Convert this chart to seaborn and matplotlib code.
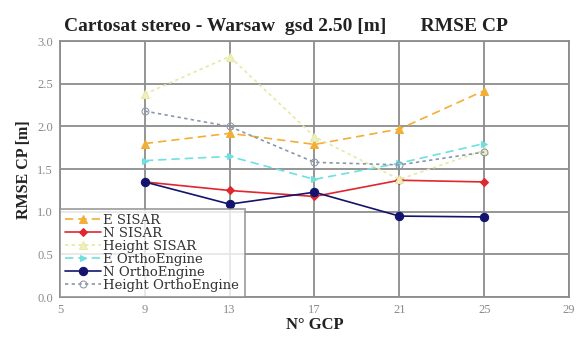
import numpy as np
import pandas as pd
import matplotlib
matplotlib.use("Agg")
import matplotlib.pyplot as plt
import seaborn as sns

# number of GCP and RMSE values on check points
gcp = [9, 13, 17, 21, 25]
e_sisar = [1.80, 1.92, 1.79, 1.97, 2.42]
n_sisar = [1.35, 1.25, 1.18, 1.37, 1.35]
h_sisar = [2.38, 2.82, 1.88, 1.38, 1.72]
e_ortho = [1.60, 1.65, 1.38, 1.57, 1.80]
n_ortho = [1.35, 1.09, 1.23, 0.95, 0.94]
h_ortho = [2.18, 2.00, 1.58, 1.55, 1.70]

labels = ["E SISAR", "N SISAR", "Height SISAR", "E OrthoEngine", "N OrthoEngine", "Height OrthoEngine"]
series = [e_sisar, n_sisar, h_sisar, e_ortho, n_ortho, h_ortho]

styles = {
    "E SISAR": dict(color="#F2AE35", ls=(0, (5, 3)), marker="^", ms=6, lw=1.2, mfc="#F2AE35"),
    "N SISAR": dict(color="#E0262E", ls="-", marker="D", ms=4.5, lw=1.2, mfc="#E0262E"),
    "Height SISAR": dict(color="#E8E8A6", ls=(0, (2, 2)), marker="^", ms=6, lw=1.2, mfc="#EFEFC0"),
    "E OrthoEngine": dict(color="#6FE0E0", ls=(0, (5, 3)), marker=">", ms=5, lw=1.2, mfc="#6FE0E0"),
    "N OrthoEngine": dict(color="#14146E", ls="-", marker="o", ms=6, lw=1.2, mfc="#14146E"),
    "Height OrthoEngine": dict(color="#8A96AA", ls=(0, (2, 2)), marker="o", ms=5, lw=1.2, mfc="none"),
}

sns.set_style("white")
plt.rcParams["font.family"] = ["Liberation Serif", "DejaVu Serif"]

fig = plt.figure(figsize=(5.76, 3.4), dpi=100)
ax = fig.add_axes([0.104, 0.126, 0.884, 0.753])

for name, vals in zip(labels, series):
    st = styles[name]
    sns.lineplot(x=gcp, y=vals, ax=ax, color=st["color"], linestyle=st["ls"],
                 linewidth=st["lw"], marker=st["marker"], markersize=st["ms"],
                 markerfacecolor=st["mfc"], markeredgecolor=st["color"], label=name)

ax.set_xlim(5, 29)
ax.set_ylim(0, 3.0)
ax.set_xticks([5, 9, 13, 17, 21, 25, 29])
ax.set_yticks(np.arange(0, 3.01, 0.5))
ax.set_yticklabels([f"{v:.1f}" for v in np.arange(0, 3.01, 0.5)])
ax.grid(True, color="#8c8c8c", lw=1.3)
ax.set_axisbelow(True)
for sp in ax.spines.values():
    sp.set_color("#8c8c8c")
    sp.set_linewidth(1.3)
ax.tick_params(axis="both", labelsize=9, colors="#8c8c8c", labelcolor="#8a8a8a",
               length=3, width=1, pad=2)

ax.set_xlabel("N° GCP", fontsize=12, fontweight="bold", color="#222222", labelpad=1)
ax.set_ylabel("RMSE CP [m]", fontsize=11.5, fontweight="bold", color="#222222", labelpad=4)
ax.set_title("Cartosat stereo - Warsaw  gsd 2.50 [m]       RMSE CP", loc="left", x=0.008,
             fontsize=14, fontweight="bold", color="#222222", pad=7)

leg = ax.legend(loc="lower left", bbox_to_anchor=(0, 0), frameon=True,
                prop={"family": "DejaVu Serif", "size": 9.5},
                fancybox=False, borderpad=0.4, labelspacing=0.0, handlelength=2.7,
                handletextpad=0.2, borderaxespad=0)
leg.get_frame().set_edgecolor("#8c8c8c")
leg.get_frame().set_linewidth(1.3)
for t in leg.get_texts():
    t.set_color("#333333")

fig.savefig("out.png", dpi=100)
